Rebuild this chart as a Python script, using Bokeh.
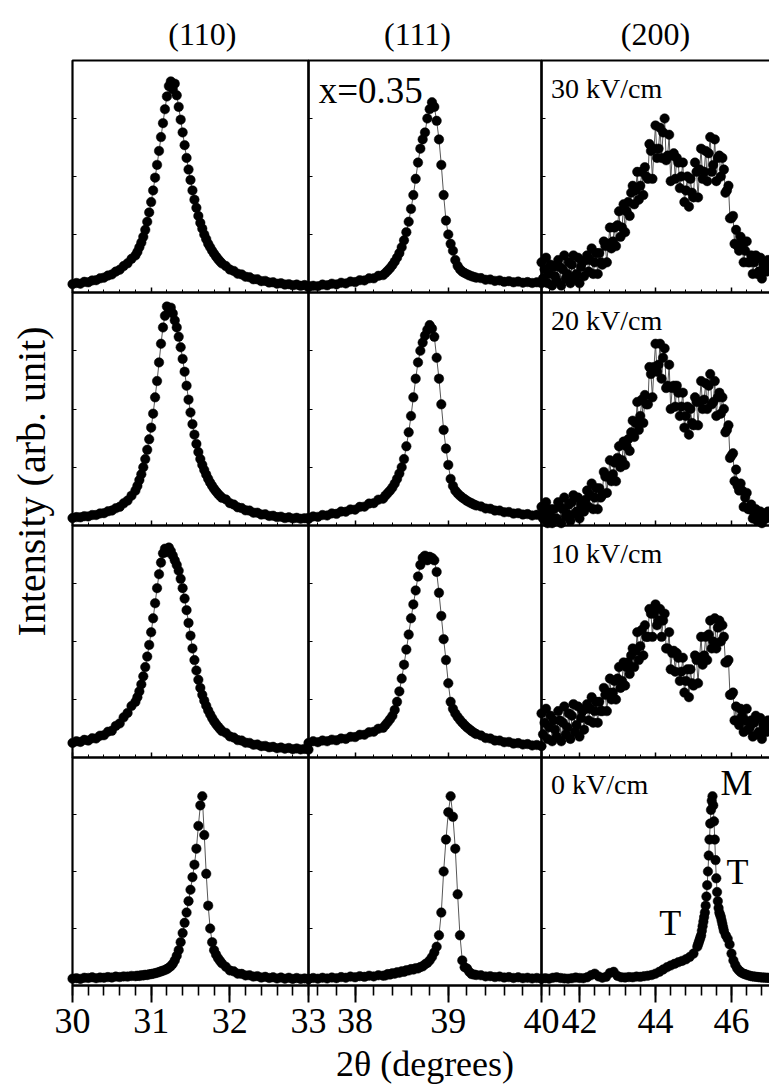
import numpy as np
from bokeh.plotting import figure
from bokeh.models import Range1d, LinearAxis, FixedTicker, Label, BoxAnnotation
from bokeh.embed import file_html
from bokeh.resources import INLINE

# ---------------- data ----------------
headers = ["(110)", "(111)", "(200)"]
fields = ["30 kV/cm", "20 kV/cm", "10 kV/cm", "0 kV/cm"]
ticks110 = [30, 31, 32, 33]
ticks111 = [38, 39, 40]
ticks200 = [42, 44, 46]

# 2-theta scan grids (degrees)
x110 = np.round(np.concatenate([np.arange(30.0, 30.76, 0.05),
                                np.arange(30.8, 31.901, 0.025),
                                np.arange(31.95, 33.001, 0.05)]), 3)
x111 = np.round(np.concatenate([np.arange(37.5, 38.301, 0.05),
                                np.arange(38.325, 39.301, 0.025),
                                np.arange(39.35, 40.001, 0.05)]), 3)
x200 = np.round(np.arange(41.0, 47.001, 0.04), 3)
x200_0 = np.round(np.concatenate([np.arange(41.0, 45.101, 0.1),
                                  np.arange(45.12, 45.801, 0.02),
                                  np.arange(45.85, 47.001, 0.05)]), 3)

# intensities (arb. unit, % of panel height)
y110_30 = [3.6, 4.1, 3.8, 4.6, 4.4, 5.2, 5.3, 6.1, 6.4, 7.3, 7.8, 9.0, 9.8, 11.4, 12.6, 14.5,
           16, 17.5, 19.5, 21.5, 24, 27, 30.5, 34.5, 39, 44, 49.5, 55, 61, 67, 73, 79, 84.5, 89, 91, 87.5,
           90, 85, 80, 74.5, 69, 63.5, 58, 53, 48.5, 44, 40, 36.5, 33, 30, 27.5, 25, 23, 21, 19.5, 18,
           16.7, 15.5, 14.4, 13.4, 12.5,
           11.4, 9.9, 9.3, 8.1, 7.8, 6.8, 6.6, 5.7, 5.7, 4.9, 5.0, 4.3, 4.4, 3.8, 4.0, 3.4, 3.6, 3.1, 3.4, 2.9, 3.2, 2.8]
y110_20 = [3.2, 3.6, 3.5, 4.0, 3.9, 4.5, 4.5, 5.2, 5.3, 6.1, 6.4, 7.4, 8.0, 9.5, 10.7, 12.8,
           15.0, 17.0, 19.5, 22.0, 25.0, 28.5, 32.5, 37.0, 42.0, 48.0, 55.0, 62.0, 70.0, 78.0, 85.0, 90.0,
           94.0, 92.5, 93.5, 91.0, 88.0, 85.0, 81.0, 76.5, 71.5, 66.0, 60.0, 54.0, 48.5, 43.5, 39.0, 35.0,
           31.5, 28.5, 26.0, 23.8, 21.8, 20.0, 18.4, 17.0, 15.7, 14.6, 13.6, 12.7, 11.9,
           11.2, 9.6, 9.0, 7.8, 7.5, 6.5, 6.4, 5.5, 5.5, 4.7, 4.8, 4.1, 4.2, 3.6, 3.8, 3.2, 3.5, 3.0, 3.3, 2.9, 3.1, 2.8]
y110_10 = [6.3, 7.0, 6.7, 7.6, 7.3, 8.3, 8.2, 9.4, 9.6, 11.1, 11.5, 13.6, 14.7, 17.3, 19.2, 22.2,
           24.0, 26.0, 28.5, 31.5, 35.0, 39.0, 43.5, 48.5, 54.0, 60.0, 66.5, 73.0, 79.0, 84.0, 88.0, 90.0,
           88.5, 90.5, 89.0, 87.0, 85.0, 83.0, 80.5, 77.0, 73.0, 68.5, 63.5, 58.0, 52.5, 47.0, 42.0, 37.5,
           33.5, 30.0, 27.0, 24.5, 22.3, 20.3, 18.6, 17.0, 15.6, 14.4, 13.3, 12.3, 11.4,
           10.6, 9.1, 8.6, 7.5, 7.3, 6.4, 6.3, 5.5, 5.6, 4.9, 5.0, 4.4, 4.6, 4.0, 4.3, 3.8, 4.1, 3.6, 3.9, 3.5, 3.7, 3.4]
y110_0 = [3.0, 3.2, 2.9, 3.4, 3.3, 3.6, 3.2, 3.5, 3.4, 3.7, 3.5, 3.9, 3.7, 4.0, 3.9, 4.2,
          4.1, 4.3, 4.2, 4.5, 4.4, 4.7, 4.6, 4.9, 5.0, 5.2, 5.4, 5.6, 5.9, 6.2, 6.5, 6.8, 7.2, 7.8, 8.5, 9.5,
          11.0, 13.0, 15.5, 19.0, 23.0, 27.5, 32.0, 37.0, 42.0, 47.5, 53.0, 60.0, 70.0, 79.0, 83.0, 66.0,
          49.0, 35.0, 25.0, 19.0, 15.5, 13.5, 12.0, 10.8, 9.7,
          8.2, 6.6, 6.2, 5.2, 5.1, 4.4, 4.5, 3.9, 4.1, 3.5, 3.8, 3.3, 3.6, 3.1, 3.5, 3.0, 3.4, 2.9, 3.3, 2.9, 3.1, 2.8]

y111_30 = [2.3, 2.9, 2.7, 3.4, 3.1, 3.8, 3.5, 4.2, 3.9, 4.7, 4.5, 5.3, 5.2, 6.1, 6.1, 7.2, 7.5,
           8.4, 9.4, 10.5, 11.8, 13.3, 15.0, 17.0, 19.5, 22.5, 26.0, 30.5, 36.0, 42.0, 49.0, 56.0, 62.0,
           66.0, 69.0, 75.0, 79.0, 82.0, 80.0, 74.0, 66.0, 55.0, 42.0, 31.0, 25.0, 21.0, 18.0, 14.0, 11.5,
           10.0, 9.0, 8.4, 7.9, 7.4, 7.0, 6.7, 6.4,
           6.2, 5.5, 5.6, 5.0, 5.2, 4.6, 4.9, 4.4, 4.7, 4.2, 4.5, 4.1, 4.4, 4.0]
y111_20 = [3.2, 3.9, 3.7, 4.5, 4.3, 5.2, 5.0, 6.0, 5.9, 6.9, 6.8, 8.0, 8.1, 9.4, 9.6, 11.1, 11.5,
           12.8, 13.9, 15.0, 16.3, 18.0, 20.0, 22.3, 25.0, 28.5, 34.0, 40.0, 47.0, 55.0, 63.0, 70.0, 75.0,
           78.5, 81.5, 84.0, 86.0, 84.5, 81.0, 72.0, 63.0, 52.0, 41.0, 33.0, 26.0, 20.0, 17.0, 15.0, 13.8,
           12.8, 12.0, 11.3, 10.6, 10.0, 9.5, 9.0, 8.6,
           8.2, 7.3, 7.2, 6.4, 6.4, 5.7, 5.8, 5.1, 5.3, 4.7, 4.9, 4.3, 4.6, 4.2]
y111_10 = [6.3, 7.0, 6.6, 7.3, 7.0, 7.7, 7.4, 8.2, 8.0, 8.9, 8.8, 9.8, 9.8, 10.9, 11.1, 12.4, 12.8,
           14.0, 15.2, 16.5, 18.0, 20.5, 24.0, 28.5, 34.0, 40.0, 46.5, 53.0, 60.0, 66.0, 72.0, 78.0, 83.0,
           86.0, 87.0, 85.0, 86.5, 86.0, 85.0, 80.0, 71.0, 61.0, 51.0, 42.0, 32.0, 24.0, 21.0, 19.0, 17.5,
           16.2, 15.0, 14.0, 13.0, 12.2, 11.4, 10.7, 10.1,
           9.5, 8.4, 8.2, 7.3, 7.3, 6.6, 6.7, 6.0, 6.2, 5.6, 5.8, 5.2, 5.4, 4.9]
y111_0 = [2.9, 3.3, 3.0, 3.4, 3.1, 3.5, 3.2, 3.7, 3.4, 3.9, 3.6, 4.1, 3.8, 4.3, 4.0, 4.5, 4.3,
          4.4, 5.0, 4.8, 5.4, 5.2, 5.8, 5.6, 6.2, 6.0, 6.7, 6.6, 7.2, 7.0, 7.6, 7.5, 8.1, 8.4, 9.3, 9.9, 11.0,
          12.5, 14.5, 17.0, 22.0, 32.0, 50.0, 64.0, 76.0, 83.0, 74.0, 60.0, 40.0, 22.0, 11.0, 8.0, 7.5,
          6.0, 5.0, 4.8, 4.6,
          4.5, 4.0, 4.1, 3.7, 3.9, 3.5, 3.7, 3.3, 3.6, 3.2, 3.4, 3.1, 3.3, 3.0]

y200_30 = [13, 6, 10, 15, 4, 8, 12, 3, 11, 7,
           5, 14, 11, 3, 10, 16, 6, 8, 13, 4,
           12, 16, 6, 8, 15, 4, 11, 13, 7, 14,
           16, 9, 14, 19, 8, 13, 17, 8, 17, 13,
           12, 22, 20, 13, 21, 28, 19, 22, 28, 20,
           29, 35, 24, 28, 38, 26, 35, 39, 33, 43,
           46, 38, 44, 52, 40, 46, 52, 42, 54, 50,
           49, 64, 61, 49, 62, 72, 58, 62, 71, 58,
           69, 75, 57, 59, 68, 48, 59, 60, 49, 58,
           56, 45, 50, 56, 39, 44, 50, 37, 49, 43,
           41, 56, 52, 41, 53, 62, 49, 52, 61, 48,
           60, 67, 52, 55, 66, 48, 58, 59, 50, 58,
           53, 43, 44, 46, 32, 32, 33, 21, 27, 20,
           18, 24, 21, 13, 18, 22, 13, 13, 16, 8,
           13, 16, 8, 9, 15, 6, 12, 13, 9, 14, 11]
y200_20 = [8, 3, 6, 10, 1, 4, 7, 1, 7, 3,
           3, 10, 8, 1, 7, 12, 4, 5, 9, 2,
           10, 13, 5, 6, 12, 3, 9, 10, 6, 11,
           15, 8, 13, 18, 7, 12, 16, 7, 16, 12,
           13, 23, 21, 14, 21, 28, 19, 22, 27, 19,
           29, 34, 25, 28, 36, 26, 34, 37, 32, 40,
           45, 38, 44, 53, 41, 47, 54, 44, 56, 52,
           52, 68, 65, 55, 68, 78, 66, 69, 78, 63,
           72, 76, 59, 60, 69, 50, 59, 60, 51, 60,
           57, 47, 51, 57, 42, 47, 51, 39, 50, 44,
           43, 55, 53, 43, 53, 62, 50, 54, 61, 50,
           60, 65, 52, 53, 62, 47, 55, 57, 48, 55,
           50, 40, 41, 43, 29, 30, 31, 19, 24, 17,
           15, 18, 15, 8, 12, 14, 7, 7, 9, 3,
           5, 7, 2, 3, 6, 1, 5, 5, 3, 6, 4]
y200_10 = [19, 10, 15, 21, 8, 13, 18, 7, 16, 12,
           9, 20, 16, 7, 15, 22, 10, 13, 19, 8,
           18, 23, 11, 14, 22, 9, 17, 20, 12, 21,
           23, 16, 21, 26, 15, 20, 24, 15, 24, 20,
           20, 30, 27, 20, 28, 34, 25, 28, 33, 25,
           34, 39, 30, 33, 41, 31, 39, 41, 36, 44,
           47, 39, 46, 54, 42, 48, 55, 44, 57, 52,
           52, 64, 62, 52, 62, 66, 57, 59, 64, 52,
           59, 62, 47, 47, 54, 38, 45, 46, 37, 45,
           43, 33, 37, 43, 28, 33, 38, 26, 38, 32,
           31, 44, 42, 32, 43, 52, 40, 44, 52, 42,
           53, 59, 47, 50, 60, 47, 56, 59, 50, 57,
           52, 41, 41, 42, 27, 27, 28, 16, 22, 16,
           14, 21, 18, 11, 16, 21, 12, 13, 16, 9,
           15, 18, 10, 11, 17, 8, 14, 15, 11, 16, 13]
y200_0 = [3.0, 3.2, 3.0, 3.4, 3.6, 3.3, 3.1, 3.0, 3.2, 3.5,
          3.3, 3.2, 3.6, 4.5, 5.2, 4.0, 3.4, 3.8, 5.5, 6.0,
          4.2, 3.6, 3.5, 3.7, 3.6, 3.9, 3.8, 4.1, 4.3, 4.6,
          5.2, 6.0, 7.0, 8.0, 8.8, 9.5, 10.2, 10.8, 11.5, 12.5,
          14.0, 17.0,
          18, 19, 20, 21, 22, 24, 26, 28, 30, 32,
          35, 39, 44, 50, 57, 64, 71, 77, 81, 83,
          79, 72, 64, 55, 47, 41, 37, 34, 32, 31,
          30, 28.5, 27, 25.5, 24,
          22.0, 20.5, 18.0, 14.0, 11.0, 9.0, 7.5, 6.5, 5.8, 5.3,
          5.0, 4.7, 4.4, 4.2, 4.0, 3.9, 3.8, 3.7, 3.6, 3.5,
          3.5, 3.4, 3.4, 3.3]

# ---------------- layout ----------------
FW, FH = 769, 1088            # the whole canvas is the frame
COLS = [72, 308, 541, 769]    # panel column edges (px from left)
ROWS = [60, 292, 525, 757, 985]  # panel row edges (px from top)


def band_range(lo, hi, p0, p1, total):
    s = (p1 - p0) / (hi - lo)
    start = lo - p0 / s
    return Range1d(start, start + total / s)


xr1 = band_range(30, 33, COLS[0], COLS[1], FW)
xr2 = band_range(37.5, 40, COLS[1], COLS[2], FW)
xr3 = band_range(41, 47, COLS[2], COLS[3], FW)
yr = [band_range(0, 100, FH - ROWS[i + 1], FH - ROWS[i], FH) for i in range(4)]

p = figure(width=FW, height=FH, x_range=xr1, y_range=yr[3],
           x_axis_location=None, y_axis_location=None, min_border=0,
           output_backend="svg", toolbar_location=None,
           background_fill_color="white", border_fill_color="white",
           outline_line_color=None)
p.extra_x_ranges = {"c2": xr2, "c3": xr3}
p.extra_y_ranges = {"r1": yr[0], "r2": yr[1], "r3": yr[2]}
p.grid.visible = False


def X(px):
    return xr1.start + px * (xr1.end - xr1.start) / FW


def Y(py):
    return yr[3].start + (FH - py) * (yr[3].end - yr[3].start) / FH


rows = ["r1", "r2", "r3", "default"]
panels = [
    ("default", [x110] * 4, [y110_30, y110_20, y110_10, y110_0]),
    ("c2", [x111] * 4, [y111_30, y111_20, y111_10, y111_0]),
    ("c3", [x200, x200, x200, x200_0], [y200_30, y200_20, y200_10, y200_0]),
]
for xname, xs, ys in panels:
    for rname, xv, yv in zip(rows, xs, ys):
        n = min(len(xv), len(yv))
        xx, yy = list(xv[:n]), list(yv[:n])
        p.line(xx, yy, x_range_name=xname, y_range_name=rname, line_color="#444444", line_width=0.9)
        p.scatter(xx, yy, x_range_name=xname, y_range_name=rname, size=9.5,
                  fill_color="black", line_color="black", line_width=0.5)

# panel frames (right edge of the last column runs off the page, as in the original)
BOX_COLS = [72, 308, 541, 772]
for ci in range(3):
    for ri in range(4):
        p.add_layout(BoxAnnotation(left=X(BOX_COLS[ci]), right=X(BOX_COLS[ci + 1]),
                                   top=Y(ROWS[ri]), bottom=Y(ROWS[ri + 1]),
                                   fill_color=None, fill_alpha=0,
                                   line_color="black", line_alpha=1, line_width=2.2))

SERIF = "Liberation Serif"
col_specs = [
    ("default", 30, 33, ticks110, [round(30 + 0.2 * i, 1) for i in range(16)]),
    ("c2", 37.5, 40, ticks111, [round(37.6 + 0.2 * i, 1) for i in range(13)]),
    ("c3", 41, 47, ticks200, [round(41.2 + 0.4 * i, 1) for i in range(15)]),
]

for xname, lo, hi, majors, minors in col_specs:
    # labelled bottom axis
    ax = LinearAxis(x_range_name=xname, fixed_location=0, bounds=(lo, hi),
                    ticker=FixedTicker(ticks=majors, minor_ticks=minors))
    ax.axis_line_width = 2
    ax.axis_line_color = "black"
    ax.major_tick_line_width = 2
    ax.major_tick_in = 0
    ax.major_tick_out = 17
    ax.minor_tick_line_width = 1.6
    ax.minor_tick_in = 0
    ax.minor_tick_out = 10
    ax.major_label_text_font = SERIF
    ax.major_label_text_font_size = "36px"
    ax.major_label_text_color = "black"
    ax.major_label_standoff = 6
    p.add_layout(ax, "below")
    # small inward ticks on the inner panel edges
    for rname in rows[:3]:
        ia = LinearAxis(x_range_name=xname, y_range_name=rname, fixed_location=0, bounds=(lo, hi),
                        ticker=FixedTicker(ticks=majors, minor_ticks=minors))
        ia.axis_line_color = None
        ia.major_tick_in = 5
        ia.major_tick_out = 0
        ia.minor_tick_in = 3
        ia.minor_tick_out = 0
        ia.major_tick_line_width = 1.5
        ia.minor_tick_line_width = 1
        ia.major_label_text_alpha = 0
        p.add_layout(ia, "below")
    for rname in rows:
        ya = LinearAxis(x_range_name=xname, y_range_name=rname, fixed_location=lo, bounds=(0, 100),
                        ticker=FixedTicker(ticks=[25, 50, 75], minor_ticks=[]))
        ya.axis_line_color = None
        ya.major_tick_in = 4
        ya.major_tick_out = 0
        ya.major_tick_line_width = 1.2
        ya.major_label_text_alpha = 0
        p.add_layout(ya, "left")

# axis titles
p.add_layout(Label(x=38.75, y=Y(1063), x_range_name="c2", y_range_name="default",
                   text="2θ (degrees)", text_font=SERIF, text_font_size="36px", text_color="black",
                   text_align="center", text_baseline="middle"))
p.add_layout(Label(x=X(31), y=18.9, x_range_name="default", y_range_name="r2",
                   text="Intensity (arb. unit)", angle=np.pi / 2,
                   text_font=SERIF, text_font_size="40px", text_color="black",
                   text_align="center", text_baseline="middle"))

# headers above the columns
for txt, xv, xname in zip(headers, [31.65, 38.67, 44.0], ["default", "c2", "c3"]):
    p.add_layout(Label(x=xv, y=111.6, x_range_name=xname, y_range_name="r1", text=txt,
                       text_font=SERIF, text_font_size="32px", text_color="black",
                       text_align="center", text_baseline="middle"))

# field labels
for txt, rname in zip(fields, rows):
    p.add_layout(Label(x=41.25, y=88, x_range_name="c3", y_range_name=rname, text=txt,
                       text_font=SERIF, text_font_size="28px", text_color="black",
                       text_align="left", text_baseline="middle"))

p.add_layout(Label(x=37.61, y=87, x_range_name="c2", y_range_name="r1", text="x=0.35",
                   text_font=SERIF, text_font_size="37px", text_color="black",
                   text_align="left", text_baseline="middle"))

for txt, xv, yv in [("M", 46.13, 88.6), ("T", 46.16, 50), ("T", 44.39, 27.2)]:
    p.add_layout(Label(x=xv, y=yv, x_range_name="c3", y_range_name="default", text=txt,
                       text_font=SERIF, text_font_size="36px", text_color="black",
                       text_align="center", text_baseline="middle"))

open("out.html", "w").write(file_html(p, INLINE))
